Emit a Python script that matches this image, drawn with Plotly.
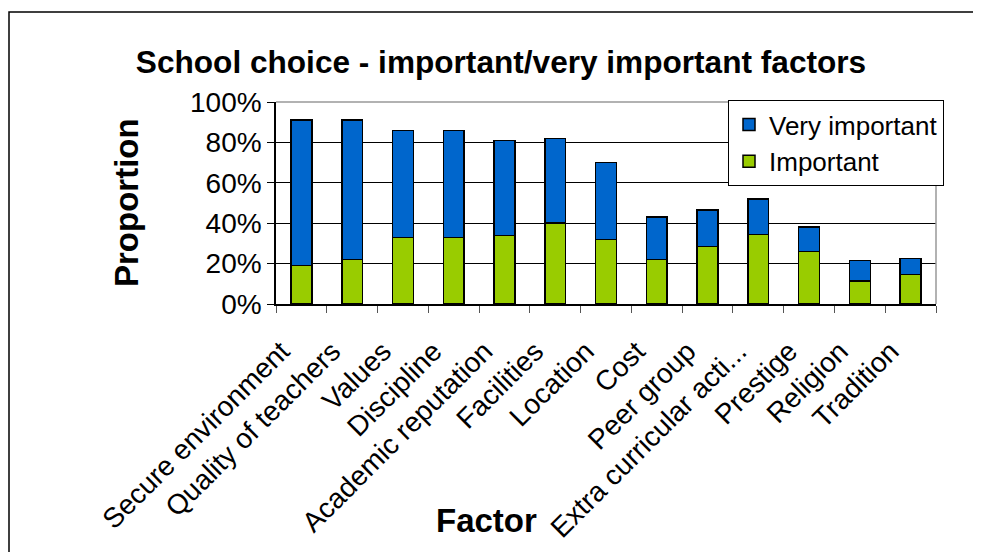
import plotly.graph_objects as go

factors = ["Secure environment", "Quality of teachers", "Values", "Discipline",
           "Academic reputation", "Facilities", "Location", "Cost", "Peer group",
           "Extra curricular acti...", "Prestige", "Religion", "Tradition"]
important = [0.19, 0.22, 0.33, 0.33, 0.34, 0.40, 0.32, 0.22, 0.285, 0.345, 0.26, 0.115, 0.145]
very_important = [0.72, 0.69, 0.53, 0.53, 0.47, 0.42, 0.38, 0.21, 0.18, 0.175, 0.12, 0.10, 0.08]

FONT = "Liberation Sans, Arial, sans-serif"
OFF = 8  # page body margin
W, H = 981, 552
# plot area in page pixels
PX0, PX1, PY0, PY1 = 276, 936, 102, 304
L, T = PX0 - OFF, PY0 - OFF
pw, ph = PX1 - PX0, PY1 - PY0
R, B = W - L - pw, H - T - ph


def px(x):
    return (x - PX0) / pw


def py(y):
    return (PY1 - y) / ph


fig = go.Figure()
fig.add_trace(go.Bar(x=factors, y=important, name="Important",
                     marker=dict(color="#99CC00", line=dict(color="black", width=1.5))))
fig.add_trace(go.Bar(x=factors, y=very_important, name="Very important",
                     marker=dict(color="#0066CC", line=dict(color="black", width=1.5))))

# outer frame of the chart object
fig.add_shape(type="rect", xref="paper", yref="paper",
              x0=px(OFF + 1), x1=px(W + 20), y0=py(H + 20), y1=py(12),
              line=dict(color="black", width=1.5), layer="below")
# grey plot-area border (top and right)
fig.add_shape(type="line", xref="paper", yref="paper", x0=0, x1=1, y0=1, y1=1,
              line=dict(color="#999999", width=1.5))
fig.add_shape(type="line", xref="paper", yref="paper", x0=1, x1=1, y0=0, y1=1,
              line=dict(color="#999999", width=1.5))

fig.add_annotation(text="<b>Proportion</b>", xref="paper", yref="paper",
                   x=px(126), y=py(203), textangle=-90, xanchor="center", yanchor="middle",
                   showarrow=False, font=dict(size=33, family=FONT, color="black"))
fig.add_annotation(text="<b>Factor</b>", xref="paper", yref="paper",
                   x=px(486), y=py(520), xanchor="center", yanchor="middle",
                   showarrow=False, font=dict(size=33, family=FONT, color="black"))

fig.update_layout(
    width=W, height=H,
    margin=dict(l=L, r=R, t=T, b=B, autoexpand=False),
    barmode="stack", bargap=0.59,
    plot_bgcolor="white", paper_bgcolor="white",
    font=dict(family=FONT, color="black"),
    title=dict(text="<b>School choice - important/very important factors</b>",
               xref="container", x=(501 - OFF) / W, y=1 - (62 - OFF) / H,
               xanchor="center", yanchor="middle",
               font=dict(size=31.6, family=FONT, color="black")),
    legend=dict(x=px(728), y=py(100), xanchor="left", yanchor="top",
                traceorder="reversed", bordercolor="black", borderwidth=1, bgcolor="white",
                font=dict(size=26, family=FONT, color="black")),
    xaxis=dict(tickangle=-45, tickfont=dict(size=28, family=FONT), tickson="boundaries",
               ticklabelstandoff=18, ticklabelshift=-20,
               ticks="outside", ticklen=7, tickcolor="#555555", showline=True,
               linecolor="black", linewidth=1.5, automargin=False),
    yaxis=dict(range=[0, 1], dtick=0.2, tickformat=".0%", tickfont=dict(size=28, family=FONT),
               ticks="outside", ticklen=7, tickcolor="black", showline=True,
               linecolor="black", linewidth=1.5, showgrid=True, gridcolor="black",
               gridwidth=1, zeroline=False, automargin=False),
)

fig.write_html("out.html")
